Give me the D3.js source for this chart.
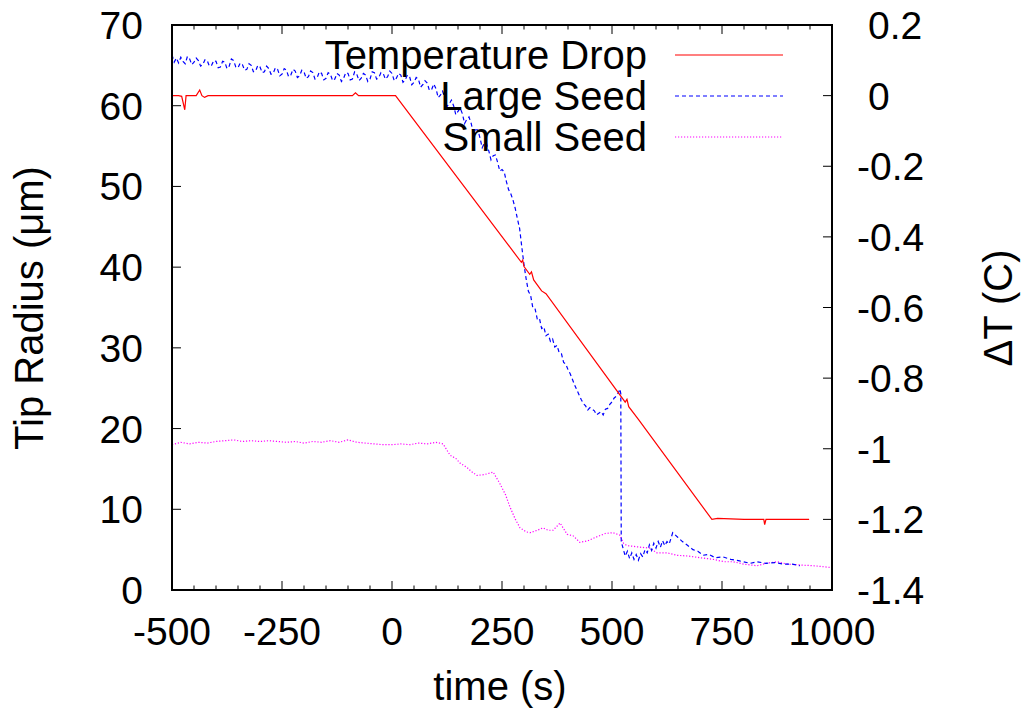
<!DOCTYPE html>
<html><head><meta charset="utf-8">
<script src="https://cdn.jsdelivr.net/npm/d3@7"></script>
<style>body{margin:0;background:#fff}svg{display:block}text{font-family:"Liberation Sans",Arial,sans-serif;fill:#000}</style>
</head><body><svg id="c" width="1021" height="710"></svg>
<script>
const xTicks = [-500,-250,0,250,500,750,1000];
const yTicks = [0,10,20,30,40,50,60,70];
const y2Ticks = [-1.4,-1.2,-1,-0.8,-0.6,-0.4,-0.2,0,0.2];
const seriesNames = ["Temperature Drop","Large Seed","Small Seed"];

const temperatureDrop = [[-500,0],[-485,0],[-478,-0.002],[-471,-0.04],[-468,0],[-445,0],[-437,0.016],[-432,0],[-426,-0.005],[-418,0],[-90,0],[-83,0.008],[-76,0],[8,0],
 [294,-0.472],[297,-0.466],[300,-0.484],[313,-0.506],[317,-0.499],[322,-0.522],[340,-0.553],[350,-0.561],[530,-0.868],[534,-0.86],[538,-0.881],[560,-0.917],[727,-1.2],[740,-1.197],[800,-1.2],[845,-1.2],[847,-1.215],[850,-1.2],[948,-1.2]];

const largeSeed = [[-500,66.3],[-495,65.4],[-490,65.9],[-485,65.3],[-480,66.0],[-475,65.5],[-470,65.2],[-465,66.1],[-460,65.8],[-455,65.1],[-450,65.4],[-445,65.9],[-440,65.6],[-435,64.9],[-430,65.1],[-425,65.7],
 [-420,65.6],[-415,64.9],[-410,65.0],[-405,65.6],[-400,65.5],[-395,64.7],[-390,64.8],[-385,65.5],[-380,65.4],[-375,64.6],[-370,64.9],[-365,65.8],[-360,65.6],[-355,64.8],[-350,64.7],[-345,65.3],
 [-340,65.1],[-335,64.4],[-330,64.5],[-325,65.2],[-320,65.0],[-315,64.2],[-310,64.3],[-305,65.0],[-300,64.8],[-295,64.1],[-290,64.2],[-285,64.9],[-280,64.6],[-275,63.9],[-270,64.0],[-265,64.7],
 [-260,64.5],[-255,63.7],[-250,63.9],[-245,64.6],[-240,64.4],[-235,63.6],[-230,63.8],[-225,64.5],[-220,64.3],[-215,63.5],[-210,63.7],[-205,64.4],[-200,64.2],[-195,63.4],[-190,63.6],[-185,64.3],
 [-180,64.1],[-175,63.3],[-170,63.5],[-165,64.2],[-160,64.0],[-155,63.2],[-150,63.4],[-145,64.1],[-140,63.9],[-135,63.1],[-130,63.3],[-125,64.0],[-120,63.8],[-115,63.0],[-110,63.4],[-105,64.1],
 [-100,64.0],[-95,63.2],[-90,63.3],[-85,64.2],[-80,63.9],[-75,63.1],[-70,63.4],[-65,64.0],[-60,63.8],[-55,63.0],[-50,63.3],[-45,64.2],[-40,64.1],[-35,63.3],[-30,63.5],[-25,64.1],
 [-20,64.0],[-15,63.3],[-10,63.6],[-5,64.3],[0,64.0],[5,63.1],[10,63.4],[15,64.0],[20,63.8],[25,62.9],[30,63.2],[35,63.8],[40,63.6],[45,62.6],[50,62.9],[55,63.5],
 [60,63.3],[65,62.3],[70,62.6],[75,63.1],[80,62.8],[85,61.9],[90,62.0],[95,62.7],[100,62.1],[105,61.0],[110,61.3],[115,61.8],[120,61.0],[125,59.9],[130,60.2],[135,60.7],
 [140,60.0],[145,58.9],[150,59.3],[155,59.7],[160,59.0],[165,57.8],[170,58.3],[175,58.6],[180,57.8],[185,56.6],[190,57.0],[195,57.0],[200,56.0],[205,54.8],[210,55.4],[215,55.3],
 [220,54.4],[225,53.3],[230,53.8],[235,53.9],[240,53.0],[245,51.9],[250,52.1],[255,51.8],[260,50.6],[265,49.6],[270,49.1],[275,48.3],[280,47.3],[285,46.0],[290,44.8],[295,42.5],
 [300,40.3],[305,38.5],[310,37.0],[315,36.5],[320,35.0],[325,34.9],[330,33.6],[335,33.7],[340,32.4],[345,32.6],[350,31.5],[355,31.7],[360,30.8],[365,31.1],[370,30.1],[375,30.3],
 [380,29.4],[385,29.3],[390,28.2],[395,28.0],[400,27.3],[405,26.8],[410,26.1],[415,25.4],[420,24.8],[425,24.2],[430,23.6],[435,23.1],[440,22.8],[445,22.3],[450,22.6],[455,22.4],
 [460,22.2],[465,21.7],[470,21.9],[475,22.1],[480,21.7],[485,22.4],[490,22.5],[495,23.0],[500,23.3],[505,23.8],[510,24.0],[515,24.5],[518,24.9],[520,24.3],[521,6.0],[526,5.0],
 [530,4.2],[535,4.8],[540,3.9],[545,4.6],[550,3.8],[555,4.4],[560,3.7],[565,4.5],[570,4.1],[575,5.0],[580,4.6],[585,5.6],[590,4.9],[595,5.8],[600,5.2],[605,6.0],
 [610,5.3],[615,6.1],[620,5.5],[625,6.0],[630,5.7],[638,7.1],[650,6.5],[660,6.0],[670,5.6],[684,5.0],[695,4.8],[707,4.3],[720,4.4],[735,4.0],[752,4.1],[770,3.8],
 [790,3.6],[814,3.3],[830,3.5],[850,3.3],[870,3.4],[889,3.2],[910,3.2],[927,3.0]];

const smallSeed = [[-500,18.0],[-480,18.3],[-460,18.1],[-440,18.3],[-420,18.2],[-400,18.4],[-380,18.5],[-360,18.6],[-340,18.4],[-320,18.5],[-300,18.4],[-280,18.5],[-260,18.4],[-240,18.3],[-220,18.4],[-200,18.2],
 [-180,18.4],[-160,18.3],[-140,18.5],[-120,18.3],[-100,18.6],[-80,18.3],[-60,18.2],[-40,18.1],[-20,18.0],[0,18.0],[20,18.1],[40,18.0],[60,18.2],[80,18.1],[100,18.3],[116,18.1],
 [132,16.7],[145,16.3],[155,15.7],[170,15.2],[180,14.7],[193,14.2],[210,14.3],[230,14.6],[245,13.2],[258,11.8],[268,10.3],[280,8.8],[291,7.7],[305,7.2],[314,7.1],[330,7.4],
 [343,7.7],[355,7.4],[366,7.4],[382,8.3],[398,6.9],[412,6.7],[427,5.9],[445,6.1],[466,6.6],[485,7.0],[502,7.1],[518,6.8],[526,5.8],[534,5.5],[550,5.4],[564,5.3],
 [586,5.2],[602,4.6],[625,4.6],[648,4.3],[675,4.2],[700,4.0],[730,3.8],[755,3.5],[775,3.5],[800,3.2],[830,3.0],[850,3.3],[875,3.5],[900,3.2],[927,3.1],[960,3.0],[995,2.8],[1000,2.8]];

const colors = ["#ff0000","#0000ff","#ff00ff"];
const dashes = [null,"4,3","1.2,1.8"];

const L=172,R=832,T=25,B=590;
const svg=d3.select("#c");
const x=d3.scaleLinear().domain([-500,1000]).range([L,R]);
const y=d3.scaleLinear().domain([0,70]).range([B,T]);
const y2=d3.scaleLinear().domain([-1.4,0.2]).range([B,T]);

svg.append("defs").append("clipPath").attr("id","clip").append("rect").attr("x",L).attr("y",T).attr("width",R-L).attr("height",B-T);

// ticks
const g=svg.append("g").attr("stroke","#000").attr("stroke-width",1);
const minor=d3.range(-500,1001,50);
minor.forEach(v=>{const len=(v%250===0)?9:4.5;
 g.append("line").attr("x1",x(v)).attr("x2",x(v)).attr("y1",B).attr("y2",B-len);
 g.append("line").attr("x1",x(v)).attr("x2",x(v)).attr("y1",T).attr("y2",T+len);});
yTicks.forEach(v=>g.append("line").attr("x1",L).attr("x2",L+9).attr("y1",y(v)).attr("y2",y(v)));
y2Ticks.forEach(v=>g.append("line").attr("x1",R).attr("x2",R-9).attr("y1",y2(v)).attr("y2",y2(v)));

// tick labels
const fs=39;
xTicks.forEach(v=>svg.append("text").attr("x",x(v)).attr("y",645).attr("text-anchor","middle").attr("font-size",fs).text(v));
yTicks.forEach(v=>svg.append("text").attr("x",143).attr("y",y(v)+14).attr("text-anchor","end").attr("font-size",fs).text(v));
y2Ticks.forEach(v=>svg.append("text").attr("x",v<0?857:868).attr("y",y2(v)+14).attr("text-anchor","start").attr("font-size",fs).text(d3.format("")(v).replace("−","-")));

// titles
svg.append("text").attr("x",500).attr("y",700).attr("text-anchor","middle").attr("font-size",40).text("time (s)");
svg.append("text").attr("transform","translate(43,308) rotate(-90)").attr("text-anchor","middle").attr("font-size",40).text("Tip Radius (\u03bcm)");
svg.append("text").attr("transform","translate(1012,308) rotate(-90)").attr("text-anchor","middle").attr("font-size",40).text("\u0394T (C)");

// lines
const lineL=d3.line().x(d=>x(d[0])).y(d=>y(d[1]));
const lineR=d3.line().x(d=>x(d[0])).y(d=>y2(d[1]));
const pg=svg.append("g").attr("clip-path","url(#clip)").attr("fill","none");
pg.append("path").datum(smallSeed).attr("d",lineL).attr("stroke",colors[2]).attr("stroke-width",1.2).attr("stroke-dasharray",dashes[2]);
pg.append("path").datum(largeSeed).attr("d",lineL).attr("stroke",colors[1]).attr("stroke-width",1.2).attr("stroke-dasharray",dashes[1]);
pg.append("path").datum(temperatureDrop).attr("d",lineR).attr("stroke",colors[0]).attr("stroke-width",1.2);

// legend
const legY=[55,96,137];
seriesNames.forEach((n,i)=>{
 svg.append("text").attr("x",647).attr("y",legY[i]+14).attr("text-anchor","end").attr("font-size",40).text(n);
 const ln=svg.append("line").attr("x1",675).attr("x2",783).attr("y1",legY[i]).attr("y2",legY[i]).attr("stroke",colors[i]).attr("stroke-width",1.2);
 if(dashes[i]) ln.attr("stroke-dasharray",dashes[i]);
});

// frame
svg.append("rect").attr("x",L).attr("y",T).attr("width",R-L).attr("height",B-T).attr("fill","none").attr("stroke","#000").attr("stroke-width",2);
</script></body></html>
